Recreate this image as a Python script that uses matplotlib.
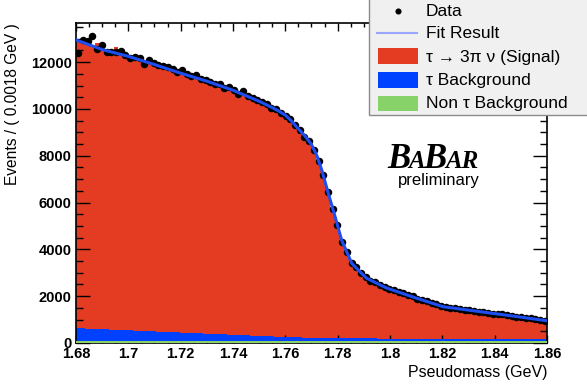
import numpy as np
import matplotlib
matplotlib.use('Agg')
import matplotlib.pyplot as plt
from matplotlib.patches import Rectangle

plt.rcParams['font.family'] = ['Liberation Sans', 'DejaVu Sans']

# binning: 100 bins of 0.0018 GeV between 1.68 and 1.86
x_lo, x_hi, n_bins = 1.68, 1.86, 100

data = [12400, 12960, 12900, 13100, 12580, 12720, 12440, 12450, 12420, 12470,
        12300, 12180, 12240, 12190, 11930, 12100, 11960, 11900, 11820, 11780,
        11690, 11600, 11650, 11480, 11430, 11460, 11300, 11220, 11150, 11080,
        11050, 10880, 10960, 10830, 10620, 10780, 10540, 10490, 10380, 10290,
        10200, 10040, 9980, 9850, 9720, 9560, 9320, 9100, 8820, 8650,
        8240, 7780, 7180, 6460, 5720, 5060, 4330, 3900, 3420, 3230,
        2990, 2830, 2670, 2610, 2480, 2410, 2300, 2260, 2170, 2130,
        2030, 1990, 1880, 1840, 1790, 1700, 1660, 1570, 1550, 1500,
        1500, 1440, 1420, 1410, 1380, 1340, 1310, 1300, 1250, 1240,
        1220, 1190, 1150, 1130, 1120, 1080, 1060, 1010, 1000, 960]

# total MC stack (signal + tau bkg + non-tau bkg)
mc_total = [12950, 12870, 12790, 12700, 12820, 12560, 12500, 12480, 12640, 12350,
            12290, 12230, 12160, 12230, 12050, 11980, 11930, 11870, 11800, 11720,
            11660, 11600, 11530, 11470, 11400, 11360, 11290, 11230, 11160, 11100,
            11020, 10960, 10890, 10800, 10720, 10640, 10560, 10470, 10400, 10300,
            10190, 10090, 9990, 9900, 9790, 9560, 9360, 9140, 8910, 8700,
            8330, 7840, 7260, 6530, 5830, 5120, 4420, 3960, 3500, 3260,
            3040, 2850, 2720, 2620, 2520, 2420, 2340, 2270, 2210, 2130,
            2070, 2000, 1930, 1860, 1790, 1730, 1660, 1600, 1560, 1530,
            1500, 1470, 1450, 1420, 1400, 1370, 1340, 1320, 1290, 1270,
            1240, 1210, 1180, 1160, 1130, 1100, 1080, 1050, 1020, 990]

tau_bkg = [530, 520, 515, 505, 500, 490, 485, 470, 465, 455,
           450, 440, 430, 425, 415, 405, 395, 385, 380, 370,
           360, 350, 345, 335, 325, 315, 310, 300, 290, 285,
           275, 265, 255, 250, 240, 230, 225, 215, 205, 200,
           190, 180, 175, 165, 160, 150, 145, 140, 135, 130,
           125, 120, 118, 115, 112, 110, 108, 105, 102, 100,
           98, 96, 95, 93, 92, 90, 88, 87, 85, 84,
           82, 80, 79, 78, 76, 75, 74, 72, 71, 70,
           69, 68, 67, 66, 65, 64, 63, 62, 61, 60,
           60, 59, 58, 57, 56, 56, 55, 54, 54, 53]

non_tau_bkg = [100] * n_bins

fit_x = [1.680, 1.690, 1.700, 1.710, 1.720, 1.730, 1.740, 1.750, 1.755, 1.7575,
         1.760, 1.7625, 1.765, 1.7675, 1.770, 1.772, 1.7739, 1.7764, 1.779,
         1.7815, 1.7854, 1.791, 1.7987, 1.810, 1.8203, 1.8344, 1.8471, 1.860]
fit_y = [12950, 12540, 12250, 11900, 11530, 11190, 10800, 10330, 10060, 9910,
         9740, 9470, 9150, 8850, 8480, 8020, 7400, 6400, 5400,
         4400, 3400, 2770, 2350, 1920, 1550, 1340, 1150, 950]

c_sig = '#e33c22'
c_tau = '#0040ff'
c_non = '#88d26a'
c_fit = '#1f4ef0'

edges = np.linspace(x_lo, x_hi, n_bins + 1)
centers = 0.5 * (edges[1:] + edges[:-1])
bkg_stack = np.array(tau_bkg) + np.array(non_tau_bkg)

W, H = 587, 387
fig = plt.figure(figsize=(W / 100, H / 100), dpi=100)
ax = fig.add_axes([76 / W, 1 - 343 / H, 471 / W, 320 / H])

ax.stairs(mc_total, edges, fill=True, color=c_sig, zorder=1)
ax.stairs(bkg_stack, edges, fill=True, color=c_tau, zorder=2)
ax.stairs(non_tau_bkg, edges, fill=True, color=c_non, zorder=3)
ax.plot(centers, data, 'o', color='black', ms=5.4, mec='none', zorder=4)
ax.plot(fit_x, fit_y, color=c_fit, lw=2.2, zorder=5)

ax.set_xlim(x_lo, x_hi)
ax.set_ylim(0, 13675)
ax.set_xticks(np.arange(1.68, 1.8601, 0.02))
ax.set_xticklabels(['1.68', '1.7', '1.72', '1.74', '1.76', '1.78', '1.8', '1.82', '1.84', '1.86'])
ax.set_xticks(np.arange(1.68, 1.8601, 0.005), minor=True)
ax.set_yticks(np.arange(0, 12001, 2000))
ax.set_yticks(np.arange(0, 13600, 500), minor=True)

ax.tick_params(axis='both', which='both', direction='in', top=True, right=True,
               width=1.0, colors='black')
ax.tick_params(axis='y', which='major', length=10, pad=3, labelsize=10.5)
ax.tick_params(axis='y', which='minor', length=5)
ax.tick_params(axis='x', which='major', length=6, pad=3, labelsize=10.5)
ax.tick_params(axis='x', which='minor', length=3)
for lab in ax.get_xticklabels() + ax.get_yticklabels():
    lab.set_fontweight('bold')
for sp in ax.spines.values():
    sp.set_linewidth(1.2)

ax.set_xlabel('Pseudomass (GeV)', fontsize=11.5, ha='right', x=1.0, labelpad=3)
ax.set_ylabel('Events / ( 0.0018 GeV )', fontsize=11.2, ha='right', y=1.0, labelpad=8)

# overlay in pixel coordinates for legend and logo
lax = fig.add_axes([0, 0, 1, 1], zorder=10)
lax.set_xlim(0, W)
lax.set_ylim(H, 0)
lax.axis('off')

lax.add_patch(Rectangle((368.5, -5), 230, 120, facecolor='#f0f0f0',
                        edgecolor='#8a8a8a', lw=1.0))
lax.plot([398], [10.5], 'o', color='black', ms=4.4, mec='none')
lax.plot([377, 417], [33, 33], color='#99a6ff', lw=1.5)
lax.add_patch(Rectangle((377.5, 48), 40, 16, facecolor=c_sig, edgecolor='none'))
lax.add_patch(Rectangle((377.5, 72), 40, 16, facecolor=c_tau, edgecolor='none'))
lax.add_patch(Rectangle((377.5, 96), 40, 15, facecolor=c_non, edgecolor='none'))
labels = ['Data', 'Fit Result', 'τ → 3π ν (Signal)', 'τ Background', 'Non τ Background']
ys = [12, 34, 57.5, 80, 103.5]
for lab, yy in zip(labels, ys):
    lax.text(425.5, yy, lab, fontsize=12.5, ha='left', va='center')

# BaBar logo
fig.canvas.draw()
renderer = fig.canvas.get_renderer()
xpos = 387
for piece, size in [('B', 25), ('A', 18), ('B', 25), ('AR', 18)]:
    t = lax.text(xpos, 168, piece, fontsize=size, family='Liberation Serif',
                 fontweight='bold', style='italic', ha='left', va='baseline')
    bb = t.get_window_extent(renderer=renderer)
    xpos = bb.x1 - 1.5
lax.text(439, 180.5, 'preliminary', fontsize=12, ha='center', va='center')

fig.savefig('out.png', dpi=100)
